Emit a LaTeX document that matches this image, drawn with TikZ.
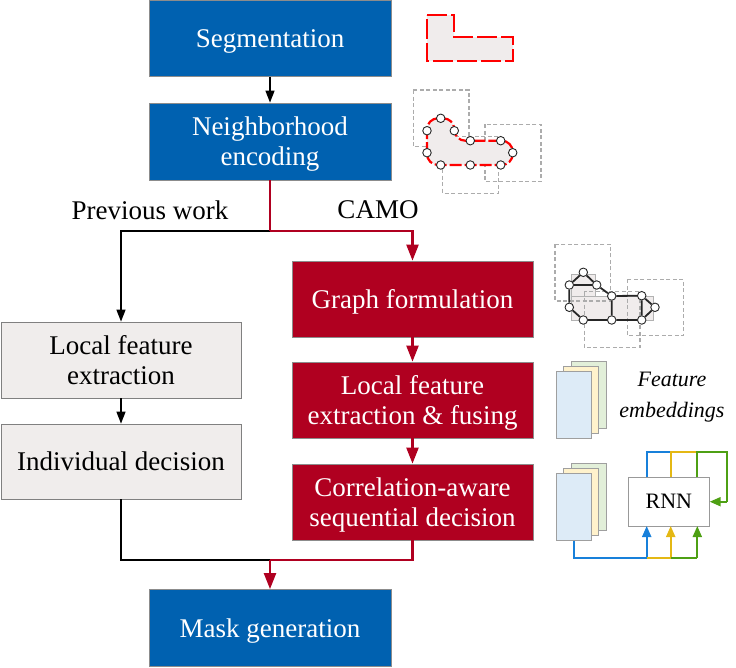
\documentclass[tikz,border=0pt]{standalone}
\usepackage{fontspec}
\setmainfont{Liberation Serif}
\usetikzlibrary{arrows.meta}
\definecolor{mblue}{RGB}{0,97,176}
\definecolor{mred}{RGB}{176,0,32}
\definecolor{gfill}{RGB}{240,237,236}
\definecolor{gline}{RGB}{128,128,128}
\definecolor{shfill}{RGB}{240,236,236}
\definecolor{rblue}{RGB}{24,128,218}
\definecolor{ryellow}{RGB}{228,184,20}
\definecolor{rgreen}{RGB}{78,160,20}
\definecolor{pgblue}{RGB}{221,235,247}
\definecolor{pgyellow}{RGB}{255,242,204}
\definecolor{pggreen}{RGB}{226,239,217}
\tikzset{
  box/.style={rectangle, inner sep=0pt, align=center, line width=0.8pt, text depth=0pt,
    font=\fontsize{27}{30}\selectfont},
  bluebox/.style={box, fill=mblue, draw=black!45, text=white},
  redbox/.style={box, fill=mred, draw=black!45, text=white},
  graybox/.style={box, fill=gfill, draw=gline, text=black},
  blk/.style={line width=1.4pt, black, -{Triangle[width=9pt,length=12pt]}},
  blkline/.style={line width=1.4pt, black},
  redarr/.style={line width=2.4pt, mred, -{Triangle[width=12pt,length=16pt]}},
  redline/.style={line width=2.4pt, mred},
  dsq/.style={draw=gray!65, dashed, dash pattern=on 4pt off 2.5pt, line width=1.3pt},
  vtx/.style={circle, draw=black!85, fill=white, line width=0.9pt, inner sep=0pt, minimum size=8.5pt},
  page/.style={rectangle, draw=gray!75, line width=0.8pt, minimum width=35pt, minimum height=67pt, inner sep=0pt},
  rarr/.style={line width=2pt, -{Triangle[width=9pt,length=11pt]}},
  rln/.style={line width=2pt},
}
\begin{document}
\begin{tikzpicture}[x=1pt,y=-1pt]
\useasboundingbox (0,0) rectangle (736,667);

% main boxes
\node[bluebox, minimum width=242pt, minimum height=76pt] (seg) at (270,38.4) {Segmentation};
\node[bluebox, minimum width=242pt, minimum height=77pt] (nbr) at (270,141.5) {Neighborhood\\encoding};
\node[bluebox, minimum width=242pt, minimum height=77pt] (mask) at (270,628) {Mask generation};
\node[graybox, minimum width=240pt, minimum height=76pt] (lfe) at (121,360) {Local feature\\extraction};
\node[graybox, minimum width=240pt, minimum height=75pt] (ind) at (121,461.5) {Individual decision};
\node[redbox, minimum width=241pt, minimum height=76pt] (graph) at (412.5,299) {Graph formulation};
\node[redbox, minimum width=241pt, minimum height=76pt] (lfef) at (412.5,400) {Local feature\\extraction \& fusing};
\node[redbox, minimum width=241pt, minimum height=76pt] (corr) at (412.5,502) {Correlation-aware\\sequential decision};

% labels
\node[font=\fontsize{27}{30}\selectfont, inner sep=0pt] (prev) at (150,210) {Previous work};
\node[font=\fontsize{27}{30}\selectfont, inner sep=0pt] (camo) at (378,210) {CAMO};

% connectors
\coordinate (j1) at (270,231);
\coordinate (j2) at (270,560);
\draw[blk] (seg.south) -- (nbr.north);
\draw[blk] (j1) -| (lfe.north);
\draw[redline] (nbr.south) -- (j1);
\draw[redarr] (j1) -| (graph.north);
\draw[blk] (lfe.south) -- (ind.north);
\draw[redarr] (graph.south) -- (lfef.north);
\draw[redarr] (lfef.south) -- (corr.north);
\draw[blkline] (ind.south) |- (j2);
\draw[redline] (corr.south) |- (j2);
\draw[redarr] (j2) -- (mask.north);

% icon 1: segmentation shape
\draw[draw=red, fill=shfill, line width=2.6pt, dash pattern=on 20pt off 4pt]
  (427,15) -- (454,15) -- (454,37) -- (513,37) -- (513,61) -- (427,61) -- cycle;

% icon 2: neighborhood encoding
\draw[dsq] (413.3,90) rectangle (469,146.7);
\draw[dsq] (442.7,136.7) rectangle (498.3,193.3);
\draw[dsq] (485,124.3) rectangle (541,181.7);
\draw[draw=red, fill=shfill, line width=2.2pt, dash pattern=on 12pt off 3pt, rounded corners=11pt]
  (427,165) -- (427,118.3) -- (454.3,118.3) -- (454.3,140.7) -- (512.7,140.7) -- (512.7,165) -- cycle;
\node[vtx] (a1) at (440.7,118.3) {};
\node[vtx] (a2) at (427,130.7) {};
\node[vtx] (a3) at (454.3,130.7) {};
\node[vtx] (a4) at (470.3,140.7) {};
\node[vtx] (a5) at (500.7,140.7) {};
\node[vtx] (a6) at (512.7,152.7) {};
\node[vtx] (a7) at (427,152.7) {};
\node[vtx] (a8) at (440.7,165) {};
\node[vtx] (a9) at (470.3,165) {};
\node[vtx] (a10) at (500.7,165) {};

% icon 3: graph
\draw[fill=shfill, draw=gray!60, line width=0.6pt]
  (571,274.3) -- (595,274.3) -- (595,296) -- (653,296) -- (653,320) -- (571,320) -- cycle;
\draw[draw=gray!60, line width=0.6pt] (571,296) -- (595,296);
\draw[dsq] (555,244.3) rectangle (610.7,301);
\draw[dsq] (584.3,291.7) rectangle (640,347.7);
\draw[dsq] (627.3,279.3) rectangle (683.3,335.7);
\node[vtx] (g1) at (583.3,272.3) {};
\node[vtx] (g2) at (569.3,285) {};
\node[vtx] (g3) at (596.7,285) {};
\node[vtx] (g4) at (611.7,296) {};
\node[vtx] (g5) at (641.7,295.7) {};
\node[vtx] (g6) at (655,307.3) {};
\node[vtx] (g7) at (569.3,307.3) {};
\node[vtx] (g8) at (583.3,320) {};
\node[vtx] (g9) at (611.7,320) {};
\node[vtx] (g10) at (641.7,320) {};
\draw[line width=1.8pt, black!85] (g1)--(g2) (g1)--(g3) (g2)--(g3) (g3)--(g4) (g4)--(g5) (g5)--(g6) (g6)--(g10) (g5)--(g10) (g4)--(g9) (g2)--(g7) (g7)--(g8) (g8)--(g9) (g9)--(g10);

% icon 4: feature embeddings
\node[page, fill=pggreen] (pa3) at (588.5,395.3) {};
\node[page, fill=pgyellow] (pa2) at (580.8,399.7) {};
\node[page, fill=pgblue] (pa1) at (573.5,404.7) {};
\node[font=\fontsize{22}{31}\selectfont\itshape, align=center, inner sep=0pt] (femb) at (672,397) {Feature\\embeddings};

% icon 5: RNN
\node[page, fill=pggreen] (pb3) at (588.5,496.7) {};
\node[page, fill=pgyellow] (pb2) at (580.8,501.7) {};
\node[page, fill=pgblue] (pb1) at (573.5,506.7) {};
\node[rectangle, draw=gray!80, fill=white, line width=0.8pt, minimum width=81pt, minimum height=48.7pt, inner sep=0pt, font=\fontsize{22}{26}\selectfont] (rnn) at (668.8,501.7) {RNN};
\coordinate (rb) at (646.7,526);
\coordinate (ry) at (670.7,526);
\coordinate (rg) at (697.3,526);
\coordinate (tb) at (646.7,477.3);
\coordinate (ty) at (670.7,477.3);
\coordinate (tg) at (697.3,477.3);
\coordinate (bb) at (646.7,558.3);
\coordinate (by) at (670.7,558.3);
\coordinate (bg) at (697.3,558.3);
\coordinate (ub) at (646.7,452.3);
\coordinate (uy) at (670.7,452.3);
\coordinate (ug) at (697.3,452.3);
\coordinate (ue) at (726.7,452.3);
\coordinate (re) at (726.7,501.7);
\draw[rln, rblue] (pb1.south) |- (bb);
\draw[rarr, rblue] (bb) -- (rb);
\draw[rln, ryellow] (bb) -- (by);
\draw[rarr, ryellow] (by) -- (ry);
\draw[rln, rgreen] (by) -- (bg);
\draw[rarr, rgreen] (bg) -- (rg);
\draw[rln, rblue] (tb) -- (ub) -- (uy);
\draw[rln, ryellow] (ty) -- (uy) -- (ug);
\draw[rln, rgreen] (tg) -- (ug) -- (ue) -- (re);
\draw[rarr, rgreen] (re) -- (rnn.east);
\end{tikzpicture}
\end{document}
